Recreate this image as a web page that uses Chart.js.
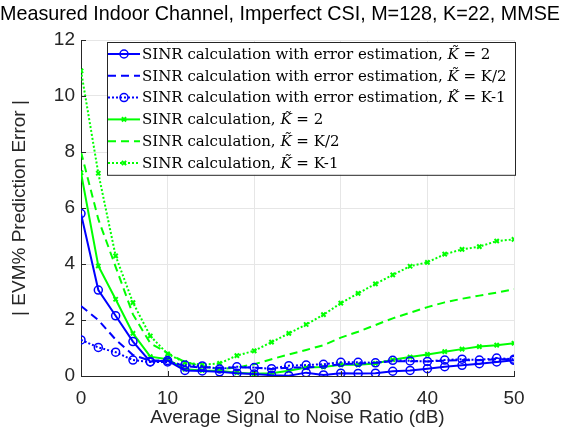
<!DOCTYPE html>
<html>
<head>
<meta charset="utf-8">
<script src="https://cdn.jsdelivr.net/npm/chart.js@4.4.0/dist/chart.umd.min.js"></script>
<style>
  html, body { margin: 0; padding: 0; background: #fff; }
  #wrap { width: 586px; height: 431px; }
</style>
</head>
<body>
<div id="wrap"><canvas id="myChart" width="586" height="431"></canvas></div>
<script>
'use strict';

// SNR in dB
const snr = [0, 2, 4, 6, 8, 10, 12, 14, 16, 18, 20, 22, 24, 26, 28, 30, 32, 34, 36, 38, 40, 42, 44, 46, 48, 50];

// SINR calculation with error estimation
const errK2 = [5.8, 3.07, 2.15, 1.23, 0.51, 0.55, 0.2, 0.18, 0.15, 0.1, 0.07, 0.03, 0.01, 0.12, 0.04, 0.1, 0.09, 0.1, 0.17, 0.2, 0.26, 0.33, 0.38, 0.44, 0.5, 0.56];
const errKhalf = [2.5, 2.0, 1.3, 0.75, 0.55, 0.55, 0.35, 0.3, 0.3, 0.3, 0.3, 0.25, 0.3, 0.3, 0.35, 0.42, 0.45, 0.47, 0.53, 0.53, 0.52, 0.55, 0.57, 0.56, 0.6, 0.6];
const errKm1 = [1.29, 1.02, 0.85, 0.57, 0.5, 0.5, 0.39, 0.36, 0.25, 0.33, 0.3, 0.26, 0.37, 0.39, 0.42, 0.49, 0.49, 0.47, 0.56, 0.54, 0.52, 0.57, 0.6, 0.57, 0.64, 0.6];

// SINR calculation
const calcK2 = [7.26, 3.93, 2.74, 1.52, 0.69, 0.6, 0.24, 0.2, 0.19, 0.12, 0.08, 0.1, 0.19, 0.3, 0.32, 0.4, 0.4, 0.45, 0.58, 0.68, 0.77, 0.87, 0.96, 1.05, 1.1, 1.17];
const calcKhalf = [8.0, 5.6, 3.9, 2.2, 1.17, 0.82, 0.5, 0.35, 0.25, 0.3, 0.42, 0.6, 0.77, 0.93, 1.1, 1.37, 1.58, 1.82, 2.06, 2.26, 2.46, 2.63, 2.76, 2.87, 2.98, 3.1];
const calcKm1 = [10.9, 7.24, 4.29, 2.62, 1.43, 0.79, 0.48, 0.4, 0.45, 0.73, 0.9, 1.21, 1.52, 1.84, 2.19, 2.6, 2.95, 3.29, 3.61, 3.92, 4.06, 4.35, 4.52, 4.62, 4.82, 4.88];

const xTicks = [0, 10, 20, 30, 40, 50];
const yTicks = [0, 2, 4, 6, 8, 10, 12];

// legend text: [before K~, after K~]
const legendParts = [
  ['SINR calculation with error estimation, ', ' = 2'],
  ['SINR calculation with error estimation, ', ' = K/2'],
  ['SINR calculation with error estimation, ', ' = K-1'],
  ['SINR calculation, ', ' = 2'],
  ['SINR calculation, ', ' = K/2'],
  ['SINR calculation, ', ' = K-1']
];
const legendLabels = legendParts.map(p => p[0] + 'K\u0303' + p[1]);

const BLUE = '#0000ff';
const GREEN = '#00ff00';
const DOT = [2, 2];
const DASH = [8, 5];
const SANS = 'Arial, "Liberation Sans", sans-serif';
const SERIF = '"DejaVu Serif", "Liberation Serif", serif';

function pts(arr) {
  return arr.map((v, i) => ({ x: snr[i], y: v }));
}

function mkSet(label, data, color, dash, marker) {
  return {
    label: label,
    data: pts(data),
    borderColor: color,
    backgroundColor: 'rgba(0,0,0,0)',
    borderWidth: 2,
    borderDash: dash,
    pointStyle: marker || 'circle',
    pointRadius: marker ? (marker === 'circle' ? 4 : 3) : 0,
    pointBorderWidth: marker === 'circle' ? 1.5 : 2,
    pointBorderColor: color,
    pointBackgroundColor: 'rgba(0,0,0,0)',
    tension: 0
  };
}

// legend drawn inside the axes, MATLAB style
const boxLegend = {
  id: 'boxLegend',
  afterDraw(chart) {
    const c = chart.ctx;
    const left = 107, top = 42, w = 408, rowH = 21.8;
    const h = rowH * 6 + 2;
    c.save();
    c.fillStyle = '#fff';
    c.fillRect(left, top, w, h);
    c.strokeStyle = '#262626';
    c.lineWidth = 1;
    c.strokeRect(left + 0.5, top + 0.5, w, h);
    chart.data.datasets.forEach((ds, i) => {
      const y = top + 12 + i * rowH;
      c.strokeStyle = ds.borderColor;
      c.lineWidth = 2;
      c.setLineDash(ds.borderDash);
      c.beginPath();
      c.moveTo(left + 1, y);
      c.lineTo(left + 33, y);
      c.stroke();
      c.setLineDash([]);
      if (ds.pointRadius > 0) {
        c.fillStyle = 'rgba(0,0,0,0)';
        c.strokeStyle = ds.borderColor;
        c.lineWidth = ds.pointBorderWidth;
        Chart.helpers.drawPoint(c, {
          pointStyle: ds.pointStyle,
          radius: ds.pointRadius,
          borderWidth: ds.pointBorderWidth
        }, left + 17, y);
      }
      c.fillStyle = '#000';
      c.textBaseline = 'middle';
      let tx = left + 35;
      c.font = '15px ' + SERIF;
      c.fillText(legendParts[i][0], tx, y + 1);
      tx += c.measureText(legendParts[i][0]).width;
      c.font = 'italic 15px ' + SERIF;
      c.fillText('K\u0303', tx, y + 1);
      tx += c.measureText('K\u0303').width;
      c.font = '15px ' + SERIF;
      c.fillText(legendParts[i][1], tx, y + 1);
    });
    c.restore();
  }
};

// inward ticks
const innerTicks = {
  id: 'innerTicks',
  afterDatasetsDraw(chart) {
    const c = chart.ctx;
    const a = chart.chartArea;
    const xs = chart.scales.x, ys = chart.scales.y;
    c.save();
    c.strokeStyle = '#262626';
    c.lineWidth = 1;
    c.beginPath();
    xTicks.forEach(t => {
      const px = Math.round(xs.getPixelForValue(t)) + 0.5;
      c.moveTo(px, a.bottom);
      c.lineTo(px, a.bottom - 5);
    });
    yTicks.forEach(t => {
      const py = Math.round(ys.getPixelForValue(t)) + 0.5;
      c.moveTo(a.left, py);
      c.lineTo(a.left + 5, py);
    });
    c.stroke();
    c.restore();
  }
};

const ctx = document.getElementById('myChart').getContext('2d');
const myChart = new Chart(ctx, {
  type: 'line',
  data: {
    datasets: [
      mkSet(legendLabels[0], errK2, BLUE, [], 'circle'),
      mkSet(legendLabels[1], errKhalf, BLUE, DASH, null),
      mkSet(legendLabels[2], errKm1, BLUE, DOT, 'circle'),
      mkSet(legendLabels[3], calcK2, GREEN, [], 'crossRot'),
      mkSet(legendLabels[4], calcKhalf, GREEN, DASH, null),
      mkSet(legendLabels[5], calcKm1, GREEN, DOT, 'crossRot')
    ]
  },
  options: {
    responsive: false,
    animation: false,
    layout: { padding: { left: 0, right: 26, top: 0, bottom: 0 } },
    plugins: {
      legend: { display: false },
      tooltip: { enabled: false },
      title: {
        display: true,
        text: 'Measured Indoor Channel, Imperfect CSI, M=128, K=22, MMSE',
        color: '#000',
        font: { family: SANS, size: 21, weight: 'normal' },
        padding: { top: 2, bottom: 12.8 }
      }
    },
    scales: {
      x: {
        type: 'linear',
        min: 0,
        max: 50,
        afterFit(scale) { scale.height = 55; },
        afterBuildTicks(scale) { scale.ticks = xTicks.map(v => ({ value: v })); },
        ticks: {
          color: '#262626',
          font: { family: SANS, size: 19 },
          padding: 11,
          maxRotation: 0
        },
        grid: { color: '#e6e6e6', drawTicks: false },
        border: { color: '#262626', width: 1 },
        title: {
          display: true,
          text: 'Average Signal to Noise Ratio (dB)',
          color: '#262626',
          font: { family: SANS, size: 19 },
          padding: { top: 0, bottom: 2 }
        }
      },
      y: {
        type: 'linear',
        min: 0,
        max: 12,
        afterFit(scale) { scale.width = 81; },
        afterBuildTicks(scale) { scale.ticks = yTicks.map(v => ({ value: v })); },
        ticks: {
          color: '#262626',
          font: { family: SANS, size: 19 },
          padding: 6
        },
        grid: { color: '#e6e6e6', drawTicks: false },
        border: { color: '#262626', width: 1 },
        title: {
          display: true,
          text: '| EVM% Prediction Error |',
          color: '#262626',
          font: { family: SANS, size: 19 },
          padding: { top: 8.6, bottom: 0 }
        }
      },
      // empty space on the right so the title centres like the reference
      pad: {
        type: 'linear',
        position: 'right',
        display: true,
        afterFit(scale) { scale.width = 46; },
        ticks: { display: false },
        grid: { display: false, drawTicks: false },
        border: { display: false }
      }
    }
  },
  plugins: [innerTicks, boxLegend]
});
</script>
</body>
</html>
